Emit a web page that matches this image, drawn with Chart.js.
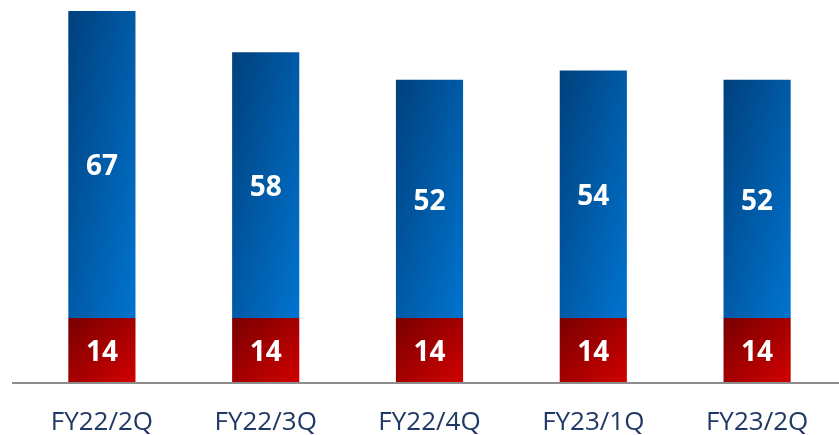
<!DOCTYPE html>
<html>
<head>
<meta charset="utf-8">
<script src="https://cdn.jsdelivr.net/npm/chart.js@4.4.0/dist/chart.umd.min.js"></script>
<style>
  html, body { margin:0; padding:0; background:#fff; }
  #wrap { width:839px; height:435px; }
</style>
</head>
<body>
<div id="wrap"><canvas id="myChart"></canvas></div>
<script>
var quarters = ['FY22/2Q', 'FY22/3Q', 'FY22/4Q', 'FY23/1Q', 'FY23/2Q']
var bottomVals = [14, 14, 14, 14, 14]
var topVals = [67, 58, 52, 54, 52]
var yMax = 81

// diagonal gradient, isolines along the BL-TR diagonal of each segment
function segGradient(c, dark, light) {
    var chart = c.chart
    var xs = chart.scales.x, ys = chart.scales.y
    if (!xs || !ys || xs.width == null) return dark
    var i = c.dataIndex
    var cx = xs.getPixelForValue(i)
    var w = (xs.width / quarters.length) * 0.41
    var lo = c.datasetIndex == 0 ? 0 : bottomVals[i]
    var hi = lo + c.dataset.data[i]
    var top = ys.getPixelForValue(hi), bot = ys.getPixelForValue(lo)
    var h = bot - top
    var cy = (top + bot) / 2
    var k = w * h / (w * w + h * h)
    var g = chart.ctx.createLinearGradient(cx - h * k, cy - w * k, cx + h * k, cy + w * k)
    g.addColorStop(0, dark)
    g.addColorStop(1, light)
    return g
}

var valueLabels = {
    id: 'valueLabels',
    afterDatasetsDraw(chart) {
        var ctx = chart.ctx
        ctx.save()
        ctx.fillStyle = '#ffffff'
        ctx.font = 'bold 28px "Open Sans"'
        ctx.textAlign = 'center'
        ctx.textBaseline = 'middle'
        chart.data.datasets.forEach(function(ds, d) {
            chart.getDatasetMeta(d).data.forEach(function(bar, i) {
                ctx.fillText(ds.data[i], bar.x, (bar.y + bar.base) / 2 + 3)
            })
        })
        ctx.restore()
    }
}

var baseLine = {
    id: 'baseLine',
    afterDatasetsDraw(chart) {
        var ctx = chart.ctx
        var y = chart.scales.y.getPixelForValue(0) + 1
        ctx.save()
        ctx.strokeStyle = '#8c8c8c'
        ctx.lineWidth = 2
        ctx.beginPath()
        ctx.moveTo(12, y)
        ctx.lineTo(chart.width, y)
        ctx.stroke()
        ctx.restore()
    }
}

var ctx = document.getElementById('myChart').getContext('2d')
var chart1 = new Chart(ctx, {
    type: 'bar',
    plugins: [valueLabels, baseLine],
    data: {
        labels: quarters,
        datasets: [{
            data: bottomVals,
            backgroundColor: function(c) { return segGradient(c, '#780000', '#d00000') },
            barPercentage: 0.41,
            categoryPercentage: 1
        }, {
            data: topVals,
            backgroundColor: function(c) { return segGradient(c, '#00407c', '#0074d0') },
            barPercentage: 0.41,
            categoryPercentage: 1
        }]
    },
    options: {
        responsive: true,
        maintainAspectRatio: false,
        animation: false,
        layout: { padding: { top: 11, left: 20, right: 0, bottom: 0 } },
        plugins: {
            legend: { display: false },
            tooltip: { enabled: false }
        },
        scales: {
            x: {
                stacked: true,
                grid: { display: false, drawTicks: false },
                border: { display: false },
                afterFit: function(scale) { scale.height = 53 },
                ticks: {
                    color: '#1f3864',
                    padding: 25,
                    font: { family: '"Open Sans"', size: 26 }
                }
            },
            y: {
                stacked: true,
                display: false,
                min: 0,
                max: yMax
            }
        }
    }
})
</script>
</body>
</html>
